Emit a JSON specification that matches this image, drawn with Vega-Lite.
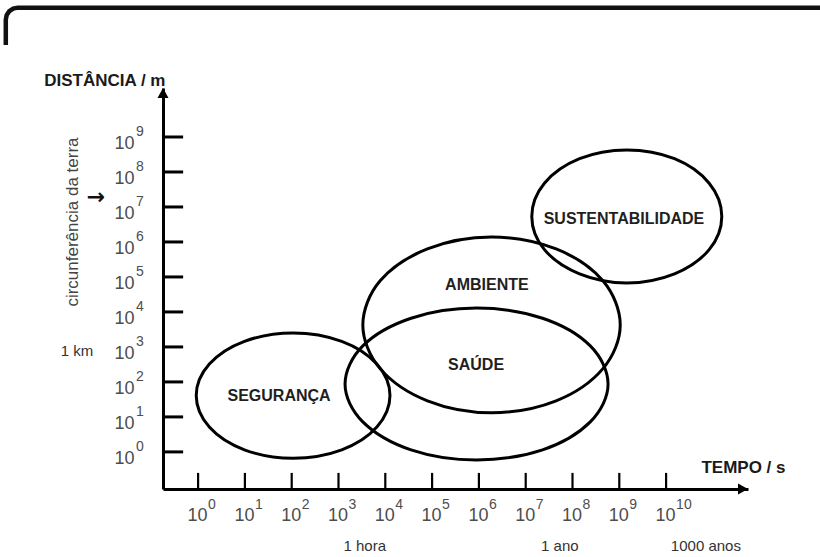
{
  "$schema": "https://vega.github.io/schema/vega-lite/v6.json",
  "width": 585,
  "height": 401,
  "autosize": {"type": "none"},
  "padding": {"left": 163, "top": 88, "right": 72, "bottom": 68},
  "background": "white",
  "config": {"view": {"stroke": null}, "text": {"font": "Liberation Sans"}},
  "datasets": {
    "ellipses": [
      {"name": "SEGURANÇA", "i": 0, "x": 4.10, "y": 1.61},
      {"name": "SEGURANÇA", "i": 1, "x": 3.82, "y": 2.51},
      {"name": "SEGURANÇA", "i": 2, "x": 3.07, "y": 3.16},
      {"name": "SEGURANÇA", "i": 3, "x": 2.03, "y": 3.40},
      {"name": "SEGURANÇA", "i": 4, "x": 0.99, "y": 3.16},
      {"name": "SEGURANÇA", "i": 5, "x": 0.24, "y": 2.51},
      {"name": "SEGURANÇA", "i": 6, "x": -0.04, "y": 1.61},
      {"name": "SEGURANÇA", "i": 7, "x": 0.24, "y": 0.71},
      {"name": "SEGURANÇA", "i": 8, "x": 0.99, "y": 0.06},
      {"name": "SEGURANÇA", "i": 9, "x": 2.03, "y": -0.18},
      {"name": "SEGURANÇA", "i": 10, "x": 3.07, "y": 0.06},
      {"name": "SEGURANÇA", "i": 11, "x": 3.82, "y": 0.71},
      {"name": "SAÚDE", "i": 0, "x": 8.76, "y": 1.94},
      {"name": "SAÚDE", "i": 1, "x": 8.38, "y": 3.03},
      {"name": "SAÚDE", "i": 2, "x": 7.36, "y": 3.82},
      {"name": "SAÚDE", "i": 3, "x": 5.95, "y": 4.11},
      {"name": "SAÚDE", "i": 4, "x": 4.55, "y": 3.82},
      {"name": "SAÚDE", "i": 5, "x": 3.52, "y": 3.03},
      {"name": "SAÚDE", "i": 6, "x": 3.14, "y": 1.94},
      {"name": "SAÚDE", "i": 7, "x": 3.52, "y": 0.86},
      {"name": "SAÚDE", "i": 8, "x": 4.55, "y": 0.06},
      {"name": "SAÚDE", "i": 9, "x": 5.95, "y": -0.23},
      {"name": "SAÚDE", "i": 10, "x": 7.36, "y": 0.06},
      {"name": "SAÚDE", "i": 11, "x": 8.38, "y": 0.86},
      {"name": "AMBIENTE", "i": 0, "x": 9.02, "y": 3.63},
      {"name": "AMBIENTE", "i": 1, "x": 8.65, "y": 4.89},
      {"name": "AMBIENTE", "i": 2, "x": 7.65, "y": 5.80},
      {"name": "AMBIENTE", "i": 3, "x": 6.27, "y": 6.14},
      {"name": "AMBIENTE", "i": 4, "x": 4.90, "y": 5.80},
      {"name": "AMBIENTE", "i": 5, "x": 3.89, "y": 4.89},
      {"name": "AMBIENTE", "i": 6, "x": 3.52, "y": 3.63},
      {"name": "AMBIENTE", "i": 7, "x": 3.89, "y": 2.38},
      {"name": "AMBIENTE", "i": 8, "x": 4.90, "y": 1.46},
      {"name": "AMBIENTE", "i": 9, "x": 6.27, "y": 1.12},
      {"name": "AMBIENTE", "i": 10, "x": 7.65, "y": 1.46},
      {"name": "AMBIENTE", "i": 11, "x": 8.65, "y": 2.38},
      {"name": "SUSTENTABILIDADE", "i": 0, "x": 11.19, "y": 6.73},
      {"name": "SUSTENTABILIDADE", "i": 1, "x": 10.92, "y": 7.68},
      {"name": "SUSTENTABILIDADE", "i": 2, "x": 10.18, "y": 8.38},
      {"name": "SUSTENTABILIDADE", "i": 3, "x": 9.16, "y": 8.63},
      {"name": "SUSTENTABILIDADE", "i": 4, "x": 8.15, "y": 8.38},
      {"name": "SUSTENTABILIDADE", "i": 5, "x": 7.40, "y": 7.68},
      {"name": "SUSTENTABILIDADE", "i": 6, "x": 7.13, "y": 6.73},
      {"name": "SUSTENTABILIDADE", "i": 7, "x": 7.40, "y": 5.78},
      {"name": "SUSTENTABILIDADE", "i": 8, "x": 8.15, "y": 5.09},
      {"name": "SUSTENTABILIDADE", "i": 9, "x": 9.16, "y": 4.83},
      {"name": "SUSTENTABILIDADE", "i": 10, "x": 10.18, "y": 5.09},
      {"name": "SUSTENTABILIDADE", "i": 11, "x": 10.92, "y": 5.78}
    ],
    "labels": [
      {"label": "SEGURANÇA", "x": 1.73, "y": 1.60},
      {"label": "AMBIENTE", "x": 6.17, "y": 4.77},
      {"label": "SAÚDE", "x": 5.94, "y": 2.48},
      {"label": "SUSTENTABILIDADE", "x": 9.10, "y": 6.65}
    ],
    "xt": [{"e": 0}, {"e": 1}, {"e": 2}, {"e": 3}, {"e": 4}, {"e": 5}, {"e": 6}, {"e": 7}, {"e": 8}, {"e": 9}, {"e": 10}],
    "yt": [{"e": 0}, {"e": 1}, {"e": 2}, {"e": 3}, {"e": 4}, {"e": 5}, {"e": 6}, {"e": 7}, {"e": 8}, {"e": 9}],
    "tempo": [
      {"label": "1 hora", "t": 3.56},
      {"label": "1 ano", "t": 7.73},
      {"label": "1000 anos", "t": 10.85}
    ],
    "distancia": [{"label": "1 km", "d": 3}],
    "frame": [
      {"i": 0, "x": -4.109, "y": 11.626},
      {"i": 1, "x": -4.109, "y": 12.354},
      {"i": 2, "x": -4.090, "y": 12.486},
      {"i": 3, "x": -4.034, "y": 12.597},
      {"i": 4, "x": -3.951, "y": 12.671},
      {"i": 5, "x": -3.853, "y": 12.697},
      {"i": 6, "x": 13.39, "y": 12.697}
    ]
  },
  "layer": [
    {
      "data": {"name": "xt"},
      "mark": {"type": "rule", "strokeWidth": 2.2, "color": "black"},
      "encoding": {
        "x": {
          "field": "e", "type": "quantitative",
          "scale": {"domain": [-0.75, 11.75], "nice": false, "zero": false},
          "axis": {
            "values": [0, 1, 2, 3, 4, 5, 6, 7, 8, 9, 10],
            "labelExpr": "'10'",
            "ticks": false, "tickSize": 0, "grid": false,
            "domain": true, "domainColor": "black", "domainWidth": 3,
            "labelFont": "Liberation Sans", "labelFontSize": 18, "labelColor": "#4d4d4d",
            "labelPadding": 31, "labelBaseline": "alphabetic", "labelAlign": "center", "labelOffset": -1,
            "labelFlush": false, "labelOverlap": false,
            "title": "TEMPO / s", "titleFont": "Liberation Sans", "titleFontSize": 17, "titleFontWeight": "bold",
            "titleColor": "#1a1a1a", "titleAngle": 0, "titleAlign": "right", "titleBaseline": "alphabetic",
            "titleX": 622, "titleY": -17
          }
        },
        "y": {"datum": -1.06, "type": "quantitative", "scale": {"domain": [-1.06, 10.4], "nice": false, "zero": false}},
        "y2": {"datum": -0.6}
      }
    },
    {
      "data": {"name": "yt"},
      "mark": {"type": "rule", "strokeWidth": 3, "color": "black"},
      "encoding": {
        "y": {
          "field": "e", "type": "quantitative",
          "scale": {"domain": [-1.06, 10.4], "nice": false, "zero": false},
          "axis": {
            "values": [0, 1, 2, 3, 4, 5, 6, 7, 8, 9],
            "labelExpr": "'10'",
            "ticks": false, "tickSize": 0, "grid": false,
            "domain": true, "domainColor": "black", "domainWidth": 3,
            "labelFont": "Liberation Sans", "labelFontSize": 18, "labelColor": "#4d4d4d",
            "labelPadding": 29, "labelBaseline": "alphabetic", "labelAlign": "right", "labelOffset": 12,
            "labelFlush": false, "labelOverlap": false,
            "title": "DISTÂNCIA / m", "titleFont": "Liberation Sans", "titleFontSize": 17, "titleFontWeight": "bold",
            "titleColor": "#1a1a1a", "titleAngle": 0, "titleAlign": "right", "titleBaseline": "alphabetic",
            "titleX": 2, "titleY": -3
          }
        },
        "x": {"datum": -0.75, "type": "quantitative", "scale": {"domain": [-0.75, 11.75], "nice": false, "zero": false}},
        "x2": {"datum": -0.32}
      }
    },
    {
      "data": {"name": "xt"},
      "mark": {"type": "text", "align": "left", "baseline": "alphabetic", "dx": 10, "dy": 20, "fontSize": 14, "color": "#4d4d4d", "font": "Liberation Sans"},
      "encoding": {
        "x": {"field": "e", "type": "quantitative"},
        "y": {"datum": -1.06, "type": "quantitative"},
        "text": {"field": "e", "type": "quantitative", "format": "d"}
      }
    },
    {
      "data": {"name": "yt"},
      "mark": {"type": "text", "align": "left", "baseline": "alphabetic", "dx": -27, "dy": -1, "fontSize": 14, "color": "#4d4d4d", "font": "Liberation Sans"},
      "encoding": {
        "y": {"field": "e", "type": "quantitative"},
        "x": {"datum": -0.75, "type": "quantitative"},
        "text": {"field": "e", "type": "quantitative", "format": "d"}
      }
    },
    {
      "data": {"name": "ellipses"},
      "mark": {"type": "line", "interpolate": "cardinal-closed", "tension": 0, "strokeWidth": 3, "color": "black"},
      "encoding": {
        "x": {"field": "x", "type": "quantitative"},
        "y": {"field": "y", "type": "quantitative"},
        "detail": {"field": "name"},
        "order": {"field": "i", "type": "quantitative"}
      }
    },
    {
      "data": {"name": "labels"},
      "mark": {"type": "text", "align": "center", "baseline": "middle", "fontSize": 16, "fontWeight": "bold", "color": "#1f1f1f", "font": "Liberation Sans"},
      "encoding": {
        "x": {"field": "x", "type": "quantitative"},
        "y": {"field": "y", "type": "quantitative"},
        "text": {"field": "label"}
      }
    },
    {
      "data": {"name": "tempo"},
      "mark": {"type": "text", "align": "center", "baseline": "alphabetic", "dy": 62, "fontSize": 15, "color": "#333333", "font": "Liberation Sans"},
      "encoding": {
        "x": {"field": "t", "type": "quantitative"},
        "y": {"datum": -1.06, "type": "quantitative"},
        "text": {"field": "label"}
      }
    },
    {
      "data": {"name": "distancia"},
      "mark": {"type": "text", "align": "center", "baseline": "alphabetic", "dy": 9, "fontSize": 15, "color": "#333333", "font": "Liberation Sans"},
      "encoding": {
        "y": {"field": "d", "type": "quantitative"},
        "x": {"datum": -2.59, "type": "quantitative"},
        "text": {"field": "label"}
      }
    },
    {
      "data": {"values": [{"label": "circunferência da terra"}]},
      "mark": {"type": "text", "align": "center", "baseline": "middle", "angle": 270, "fontSize": 17, "color": "#444444", "font": "Liberation Sans"},
      "encoding": {
        "x": {"datum": -2.67, "type": "quantitative"},
        "y": {"datum": 6.57, "type": "quantitative"},
        "text": {"field": "label"}
      }
    },
    {
      "data": {"values": [{"label": "→"}]},
      "mark": {"type": "text", "align": "center", "baseline": "middle", "fontSize": 22, "fontWeight": "bold", "color": "#111111", "font": "DejaVu Sans"},
      "encoding": {
        "x": {"datum": -2.18, "type": "quantitative"},
        "y": {"datum": 7.28, "type": "quantitative"},
        "text": {"field": "label"}
      }
    },
    {
      "data": {"name": "frame"},
      "mark": {"type": "line", "interpolate": "linear", "strokeWidth": 4.5, "color": "#111111"},
      "encoding": {
        "x": {"field": "x", "type": "quantitative"},
        "y": {"field": "y", "type": "quantitative"},
        "order": {"field": "i", "type": "quantitative"}
      }
    },
    {
      "data": {"values": [{"arrow": "y"}]},
      "mark": {"type": "point", "shape": "M0,0L-0.55,1L0.55,1Z", "size": 400, "filled": true, "color": "black", "opacity": 1, "strokeWidth": 0},
      "encoding": {
        "x": {"datum": -0.75, "type": "quantitative"},
        "y": {"datum": 10.4, "type": "quantitative"}
      }
    },
    {
      "data": {"values": [{"arrow": "x"}]},
      "mark": {"type": "point", "shape": "M0,0L-1,-0.55L-1,0.55Z", "size": 400, "filled": true, "color": "black", "opacity": 1, "strokeWidth": 0},
      "encoding": {
        "x": {"datum": 11.75, "type": "quantitative"},
        "y": {"datum": -1.06, "type": "quantitative"}
      }
    }
  ]
}
